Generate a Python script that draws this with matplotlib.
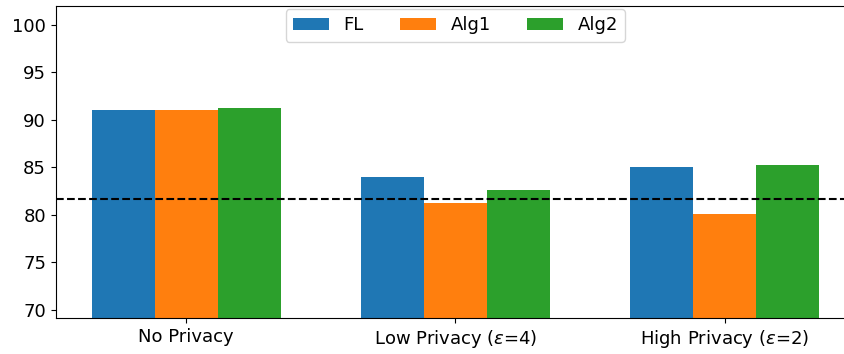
import matplotlib
matplotlib.use("Agg")
import matplotlib.pyplot as plt
import numpy as np

# accuracy (%) per privacy setting
settings = ['No Privacy', r'Low Privacy ($\varepsilon$=4)', r'High Privacy ($\varepsilon$=2)']
fl   = [91.05, 83.95, 85.0]
alg1 = [91.05, 81.25, 80.1]
alg2 = [91.25, 82.6, 85.2]
baseline = 81.7

x = np.arange(len(settings))
w = 0.7 / 3

fig, ax = plt.subplots(figsize=(8.45, 3.54), dpi=100)
ax.bar(x - w, fl, w, label='FL')
ax.bar(x, alg1, w, label='Alg1')
ax.bar(x + w, alg2, w, label='Alg2')
ax.axhline(baseline, color='k', linestyle='--', linewidth=1.5)

ax.set_ylim(69.1, 102)
ax.set_yticks([70, 75, 80, 85, 90, 95, 100])
ax.set_xticks(x)
ax.set_xticklabels(settings)
ax.tick_params(labelsize=13)
ax.legend(loc='upper center', ncol=3, fontsize=13, borderaxespad=0.2)

# axes runs slightly past the right edge of the canvas
fig.subplots_adjust(left=0.066, right=1.012, top=0.984, bottom=0.101)
fig.savefig('out.png')
